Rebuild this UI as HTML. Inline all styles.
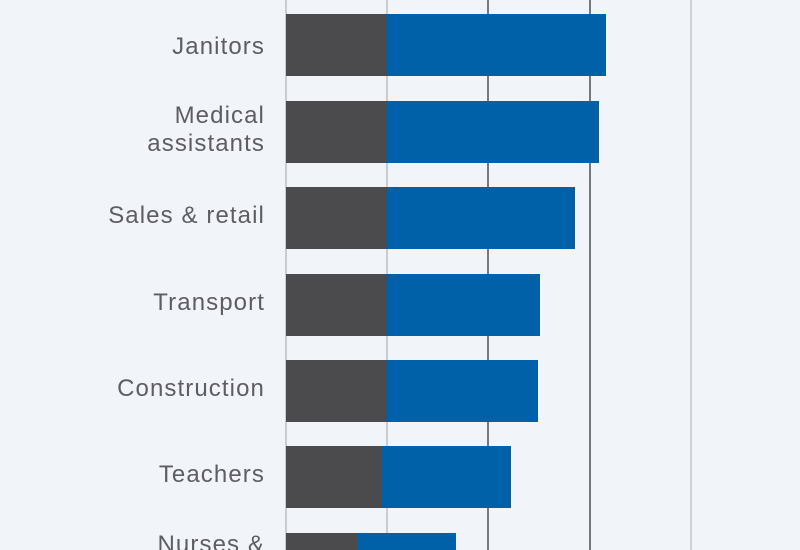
<!DOCTYPE html>
<html style="overflow:hidden;width:800px;height:550px"><head><style>
body{margin:0;width:800px;height:550px;overflow:hidden;position:relative;background:#f1f5fa;font-family:"Liberation Sans",sans-serif;}
.g{position:absolute;top:0;height:550px;width:2px}
.b{position:absolute;height:62px}
.d{background:#4b4a4d}.u{background:#0061a8}
.l{position:absolute;right:535px;text-align:right;color:#5d5d62;font-size:24px;letter-spacing:1.1px;line-height:28px;white-space:nowrap}
</style></head><body>
<div class="g" style="left:285px;background:#c9cdd2"></div>
<div class="g" style="left:386px;background:#c9cdd2"></div>
<div class="g" style="left:487px;background:#77787b"></div>
<div class="g" style="left:589px;background:#77787b"></div>
<div class="g" style="left:690px;background:#cfd3d8"></div>

<div class="b d" style="left:286px;width:101px;top:14px"></div><div class="b u" style="left:387px;width:219px;top:14px"></div>
<div class="b d" style="left:286px;width:101px;top:101px"></div><div class="b u" style="left:387px;width:212px;top:101px"></div>
<div class="b d" style="left:286px;width:101px;top:187px"></div><div class="b u" style="left:387px;width:188px;top:187px"></div>
<div class="b d" style="left:286px;width:101px;top:274px"></div><div class="b u" style="left:387px;width:153px;top:274px"></div>
<div class="b d" style="left:286px;width:101px;top:360px"></div><div class="b u" style="left:387px;width:151px;top:360px"></div>
<div class="b d" style="left:286px;width:96px;top:446px"></div><div class="b u" style="left:382px;width:129px;top:446px"></div>
<div class="b d" style="left:286px;width:72px;top:533px;height:17px"></div><div class="b u" style="left:358px;width:98px;top:533px;height:17px"></div>

<div class="l" style="top:33px">Janitors</div>
<div class="l" style="top:102px">Medical<br>assistants</div>
<div class="l" style="top:202px">Sales &amp; retail</div>
<div class="l" style="top:289px">Transport</div>
<div class="l" style="top:375px">Construction</div>
<div class="l" style="top:461px">Teachers</div>
<div class="l" style="top:531px">Nurses &amp;</div>
</body></html>
